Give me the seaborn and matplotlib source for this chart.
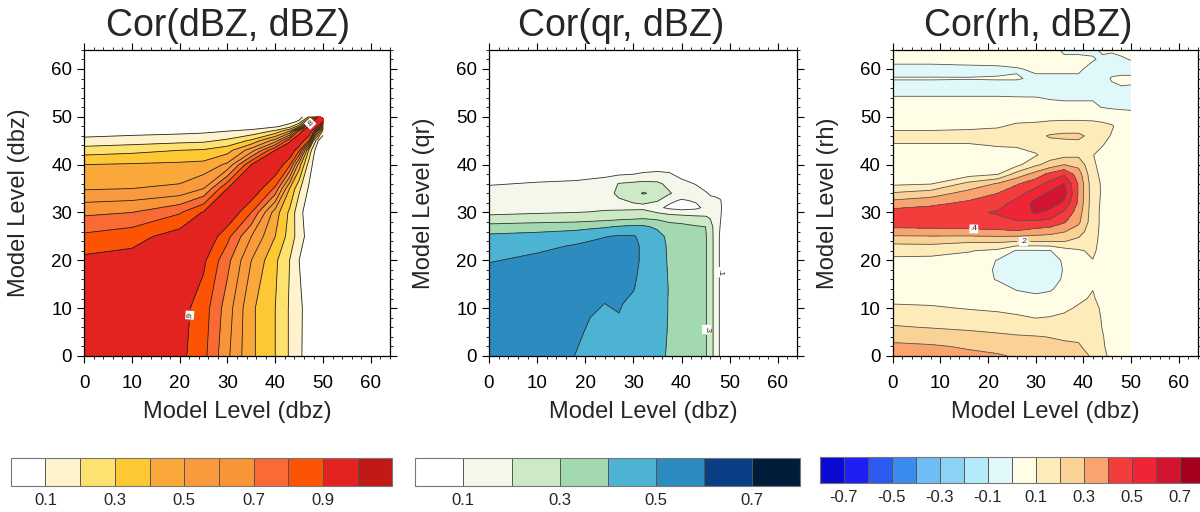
import numpy as np
import matplotlib
matplotlib.use("Agg")
import matplotlib.pyplot as plt
import matplotlib.cm as cm
import seaborn as sns
from matplotlib.colors import ListedColormap, BoundaryNorm
from matplotlib.ticker import MultipleLocator

sns.set_theme(style="ticks")
plt.rcParams['font.family'] = ['Liberation Sans', 'DejaVu Sans']

# ---------------- data ----------------
# panel 1: Cor(dBZ, dBZ); rows = dbz level (y), cols = dbz level (x)
dbz_lev = [0, 10, 20, 25, 30, 35, 40, 43, 45, 47, 48, 49, 50]
cor_dbz = [
    [1.00, .96, .93, .83, .62, .42, .30, .19, .12, .05, .03, .02, .01],
    [.96, 1.00, .94, .85, .65, .42, .30, .19, .12, .06, .04, .02, .01],
    [.925, .94, 1.00, .92, .73, .50, .32, .20, .10, .05, .03, .02, .01],
    [.82, .86, .95, 1.00, .83, .60, .40, .26, .15, .06, .04, .02, .01],
    [.68, .70, .79, .91, 1.00, .80, .45, .28, .13, .05, .03, .02, .01],
    [.49, .50, .52, .60, .90, 1.00, .78, .40, .22, .09, .05, .03, .02],
    [.40, .41, .42, .43, .52, .90, 1.00, .82, .45, .16, .08, .04, .02],
    [.25, .27, .30, .31, .36, .55, .90, 1.00, .82, .30, .12, .05, .03],
    [.13, .15, .17, .18, .22, .32, .55, .88, 1.00, .80, .30, .10, .04],
    [.05, .06, .07, .08, .10, .12, .22, .40, .85, 1.00, .85, .45, .15],
    [.03, .04, .05, .05, .06, .06, .08, .15, .35, .90, 1.00, .88, .55],
    [.02, .02, .03, .03, .04, .03, .04, .06, .12, .50, .92, 1.00, .92],
    [.01, .01, .01, .01, .02, .02, .02, .03, .05, .20, .60, .95, 1.05],
]

# panel 2: Cor(qr, dBZ); one list per dbz level (x), values along qr level (y)
qr_x = [0, 10, 18, 21, 24, 27, 30, 32, 35, 37.5, 40, 43, 45, 46, 47, 48, 50]
qr_y = [0, 5, 9, 11, 14, 17, 20, 23, 25, 27, 29, 31, 32.5, 34, 36, 38, 40]
cor_qr_cols = [
    [.58, .58, .58, .58, .57, .55, .49, .46, .42, .34, .21, .17, .16, .15, .09, .05, .03],
    [.59, .59, .59, .59, .58, .57, .53, .47, .43, .36, .22, .17, .16, .15, .11, .05, .03],
    [.497, .52, .54, .55, .56, .57, .56, .51, .45, .37, .23, .17, .16, .15, .12, .06, .03],
    [.47, .485, .505, .52, .54, .56, .57, .53, .47, .38, .24, .17, .16, .15, .13, .07, .03],
    [.45, .47, .49, .50, .52, .55, .57, .54, .495, .39, .25, .18, .17, .16, .14, .08, .03],
    [.44, .47, .50, .51, .52, .54, .55, .54, .51, .41, .26, .18, .19, .22, .205, .09, .04],
    [.42, .44, .46, .475, .505, .52, .53, .53, .51, .42, .27, .18, .21, .25, .22, .10, .05],
    [.42, .43, .44, .45, .46, .47, .48, .48, .47, .42, .28, .18, .22, .31, .23, .11, .05],
    [.41, .42, .43, .43, .44, .45, .45, .45, .44, .38, .27, .12, .21, .27, .22, .12, .05],
    [.395, .395, .395, .395, .395, .39, .385, .38, .37, .34, .25, .08, .12, .21, .17, .11, .05],
    [.36, .36, .36, .36, .36, .36, .36, .36, .355, .33, .24, .06, .09, .15, .13, .07, .03],
    [.33, .33, .33, .33, .33, .33, .33, .33, .33, .31, .22, .08, .11, .14, .095, .04, .02],
    [.31, .31, .31, .31, .31, .31, .31, .31, .31, .30, .21, .12, .13, .11, .06, .03, .01],
    [.25, .25, .25, .25, .25, .25, .25, .25, .25, .24, .19, .14, .12, .09, .05, .02, .01],
    [.16, .16, .16, .16, .16, .16, .16, .16, .16, .16, .15, .14, .12, .08, .04, .02, 0],
    [.09, .09, .09, .09, .09, .09, .09, .09, .09, .10, .11, .12, .11, .06, .03, .01, 0],
    [0, 0, 0, 0, 0, 0, 0, 0, 0, 0, 0, 0, 0, 0, 0, 0, 0],
]

# panel 3: Cor(rh, dBZ); one list per dbz level (x), values along rh level (y)
rh_x = [0, 8, 16, 22, 26, 30, 33, 36, 39, 42, 44, 46, 48, 50]
rh_y = [0, 2, 4, 6, 8, 10, 12, 14, 16, 18, 20, 22, 24, 26, 28, 30, 32,
        34, 36, 38, 40, 42, 44, 46, 48, 50, 52, 54, 56, 58, 60, 62, 64]
cor_rh_cols = [
    [.33, .32, .27, .21, .16, .115, .08, .06, .05, .06, .07, .15, .22, .36, .46, .44, .34,
     .21, .08, .05, .04, .05, .09, .14, .07, .04, .02, .005, -.03, .005, -.03, .03, .03],
    [.33, .31, .26, .195, .15, .11, .075, .05, .04, .05, .07, .14, .23, .36, .47, .46, .37,
     .25, .095, .05, .04, .05, .09, .14, .07, .04, .02, .005, -.03, .005, -.03, .03, .03],
    [.32, .29, .24, .18, .135, .095, .07, .05, .04, .045, .07, .105, .215, .37, .47, .48, .42,
     .34, .23, .06, .04, .05, .09, .14, .08, .04, .02, .005, -.03, .003, -.02, .03, .03],
    [.31, .27, .22, .17, .125, .085, .06, .03, -.005, -.01, -.005, .08, .22, .38, .47, .51, .46,
     .40, .31, .095, .05, .06, .105, .15, .09, .05, .02, .005, -.03, .005, -.015, .03, .03],
    [.29, .25, .21, .16, .115, .07, .03, -.005, -.03, -.04, -.03, -.01, .205, .39, .49, .56, .53,
     .46, .39, .24, .07, .06, .11, .16, .12, .06, .02, .003, -.03, .005, -.005, .03, .03],
    [.26, .23, .205, .15, .098, .05, .02, -.02, -.04, -.045, -.035, -.01, .205, .36, .48, .61, .63,
     .55, .46, .34, .18, .09, .14, .17, .13, .06, .02, .002, -.03, -.01, .01, .03, .03],
    [.25, .22, .198, .145, .105, .06, .03, -.01, -.03, -.035, -.03, -.005, .21, .34, .47, .57, .65,
     .62, .53, .43, .24, .15, .16, .21, .14, .07, .02, -.005, -.03, -.01, .01, .02, .02],
    [.24, .215, .19, .15, .115, .085, .05, .03, .01, .005, .01, .06, .205, .305, .41, .48, .58,
     .64, .605, .49, .30, .17, .16, .22, .15, .07, .02, -.01, -.03, -.01, .01, .01, -.01],
    [.23, .21, .185, .16, .13, .11, .085, .06, .05, .05, .06, .09, .17, .25, .32, .35, .38,
     .39, .39, .35, .27, .18, .17, .22, .15, .07, .02, -.01, -.03, -.01, .01, .01, -.01],
    [.19, .16, .14, .13, .125, .12, .11, .098, .08, .085, .098, .115, .12, .13, .14, .14, .14,
     .14, .135, .12, .11, .102, .12, .17, .14, .07, .01, -.005, -.03, -.03, -.02, .005, -.01],
    [.12, .11, .105, .098, .095, .09, .07, .06, .05, .05, .06, .07, .08, .08, .08, .08, .085,
     .09, .09, .085, .08, .08, .102, .14, .13, .06, -.002, -.02, -.03, -.02, -.02, -.01, .01],
    [.08, .07, .07, .07, .065, .06, .05, .04, .04, .04, .045, .05, .055, .06, .06, .06, .065,
     .07, .07, .07, .07, .075, .08, .09, .11, .05, -.01, -.03, -.01, .005, -.02, -.02, .01],
    [.06, .06, .06, .06, .055, .05, .045, .04, .035, .035, .04, .04, .045, .05, .05, .05, .05,
     .055, .055, .055, .055, .055, .055, .06, .06, .03, -.01, -.03, -.003, .01, -.02, -.005, .01],
    [.05, .05, .05, .05, .05, .045, .04, .035, .03, .03, .035, .035, .04, .045, .045, .045, .045,
     .05, .05, .05, .05, .05, .05, .05, .05, .02, -.01, -.03, -.005, .01, -.02, .002, .01],
]

# colour tables (label bars)
colors_dbz = ['#FFFFFF', '#FEF3CD', '#FEE26F', '#FDC834', '#FBA83A', '#FA9A3C',
              '#F99437', '#FA6A35', '#FC5404', '#E2231F', '#C11A16']
levels_dbz = [-1, .1, .2, .3, .4, .5, .6, .7, .8, .9, 1.0001, 1.5]
bar_dbz = [0, .1, .2, .3, .4, .5, .6, .7, .8, .9, 1.0, 1.1]
ticks_dbz = [.1, .3, .5, .7, .9]

colors_qr = ['#FFFFFF', '#F3F8EA', '#CDE9C6', '#A3D9B1', '#4CB3D3', '#2C8CBF',
             '#093E84', '#001C3B']
levels_qr = [-1, .1, .2, .3, .4, .5, .6, .7, 1.0]
bar_qr = [0, .1, .2, .3, .4, .5, .6, .7, .8]
ticks_qr = [.1, .3, .5, .7]

colors_rh = ['#0A0AD2', '#1E1EF5', '#2D5AF0', '#3C8CF0', '#6EBEF5', '#8CD2F5',
             '#B4EBFA', '#E1F8FA', '#FFFDE6', '#FDEBB9', '#FAD296', '#F9A46E',
             '#F53C3C', '#EF2535', '#D21430', '#A5001E']
levels_rh = [-1, -.7, -.6, -.5, -.4, -.3, -.2, -.1, 0, .1, .2, .3, .4, .5, .6, .7, 1]
bar_rh = [-.8, -.7, -.6, -.5, -.4, -.3, -.2, -.1, 0, .1, .2, .3, .4, .5, .6, .7, .8]
ticks_rh = [-.7, -.5, -.3, -.1, .1, .3, .5, .7]

# where the small line labels sit (near x, near y)
tags_dbz = [(47.3, 48.6), (22.6, 8.5)]
tags_qr = [(47.9, 17.5), (45.4, 5.5)]
tags_rh = [(17, 26.5), (27.5, 24.0)]

# ---------------- figure ----------------
fig = plt.figure(figsize=(12, 5.12), dpi=100)


def short_fmt(v):
    return f'{v:.1f}'.replace('0.', '.')


def panel(rect, x, y, z, levels, colors, line_color, title, title_x, ylabel, tags):
    ax = fig.add_axes(rect)
    ax.contourf(x, y, z, levels=levels, colors=colors)
    cs = ax.contour(x, y, z, levels=levels[1:-2], colors=line_color, linewidths=0.6)
    try:
        txt = ax.clabel(cs, manual=tags, inline=True, fontsize=6, fmt=short_fmt)
        for t in txt:
            t.set_bbox(dict(facecolor='white', edgecolor='none', pad=0.6))
            t.set_color('#222222')
    except Exception:
        pass
    ax.set_xlim(0, 64)
    ax.set_ylim(0, 64)
    ax.xaxis.set_major_locator(MultipleLocator(10))
    ax.yaxis.set_major_locator(MultipleLocator(10))
    ax.xaxis.set_minor_locator(MultipleLocator(2))
    ax.yaxis.set_minor_locator(MultipleLocator(2))
    ax.tick_params(which='both', direction='out', top=True, right=True,
                   labelsize=13.5, colors='black')
    ax.tick_params(which='major', length=5, width=0.8)
    ax.tick_params(which='minor', length=2.5, width=0.6)
    ax.tick_params(axis='x', which='major', pad=8.5)
    for s in ax.spines.values():
        s.set_linewidth(0.9)
        s.set_color('black')
    ax.set_xlabel('Model Level (dbz)', fontsize=17, labelpad=7)
    ax.set_ylabel(ylabel, fontsize=17, labelpad=15)
    ax.text(title_x, 1.045, title, transform=ax.transAxes, ha='center',
            va='baseline', fontsize=27)
    return ax


def label_bar(rect, colors, bounds, ticks):
    cax = fig.add_axes(rect)
    cmap = ListedColormap(colors)
    norm = BoundaryNorm(bounds, cmap.N)
    cb = fig.colorbar(cm.ScalarMappable(norm=norm, cmap=cmap), cax=cax,
                      orientation='horizontal', ticks=ticks, drawedges=True)
    cb.set_ticklabels([f'{t:.1f}' for t in ticks])
    cb.ax.minorticks_off()
    cb.ax.tick_params(which='both', length=0, labelsize=12, pad=5)
    cb.outline.set_edgecolor('#777777')
    cb.outline.set_linewidth(0.8)
    cb.dividers.set_color('#555555')
    cb.dividers.set_linewidth(0.7)


panel([0.070, 0.3047, 0.255, 0.598], dbz_lev, dbz_lev, np.array(cor_dbz),
      levels_dbz, colors_dbz, '#222222', 'Cor(dBZ, dBZ)', 0.47, 'Model Level (dbz)', tags_dbz)
panel([0.4075, 0.3047, 0.2567, 0.598], qr_x, qr_y, np.array(cor_qr_cols).T,
      levels_qr, colors_qr, '#333333', 'Cor(qr, dBZ)', 0.43, 'Model Level (qr)', tags_qr)
panel([0.744, 0.3047, 0.254, 0.598], rh_x, rh_y, np.array(cor_rh_cols).T,
      levels_rh, colors_rh, '#555555', 'Cor(rh, dBZ)', 0.446, 'Model Level (rh)', tags_rh)

label_bar([0.009, 0.051, 0.318, 0.055], colors_dbz, bar_dbz, ticks_dbz)
label_bar([0.346, 0.051, 0.321, 0.055], colors_qr, bar_qr, ticks_qr)
label_bar([0.683, 0.057, 0.320, 0.051], colors_rh, bar_rh, ticks_rh)

fig.savefig('out.png', dpi=100, facecolor='white')
